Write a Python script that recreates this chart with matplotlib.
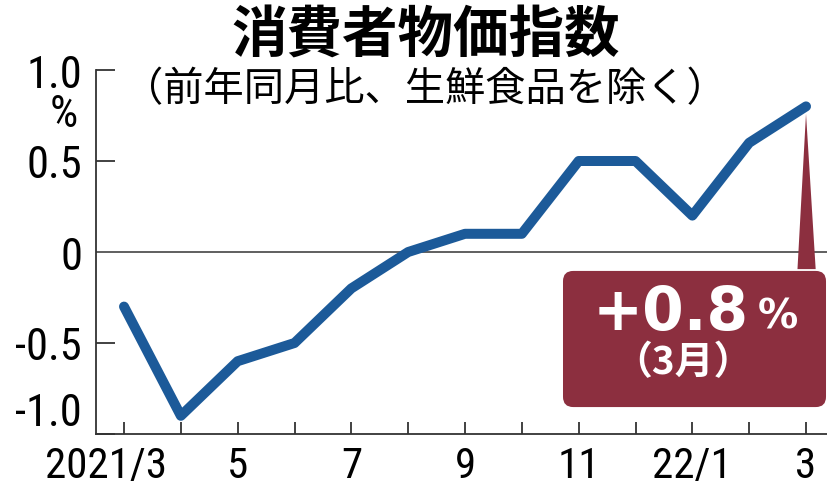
import matplotlib
matplotlib.use("Agg")
import matplotlib.pyplot as plt
import matplotlib.transforms as mtransforms
from matplotlib.patches import FancyBboxPatch, Polygon

# data
months = ["2021/3", "4", "5", "6", "7", "8", "9", "10", "11", "12", "22/1", "2", "3"]
cpi = [-0.3, -0.9, -0.6, -0.5, -0.2, 0.0, 0.1, 0.1, 0.5, 0.5, 0.2, 0.6, 0.8]
tick_labels = ["2021/3", "", "5", "", "7", "", "9", "", "11", "", "22/1", "", "3"]
y_ticks = [-1.0, -0.5, 0, 0.5, 1.0]
y_labels = ["-1.0", "-0.5", "0", "0.5", "1.0"]

num_font = ["Roboto Condensed", "DejaVu Sans"]
jp_font = ["Noto Sans CJK JP", "DejaVu Sans"]
box_font = ["DejaVu Sans"]

fig = plt.figure(figsize=(8.28, 4.89), dpi=100)
ax = fig.add_axes([96 / 828, 1 - 435 / 489, 1 - 96 / 828, (435 - 71) / 489])

x = list(range(len(cpi)))
ax.axhline(0, color="#444444", lw=1.2, zorder=1)
ax.plot(x, cpi, color="#1c5a99", lw=7.2, solid_joinstyle="round",
        solid_capstyle="round", zorder=3)

ax.set_xlim(-0.493, 12.387)
ax.set_ylim(-1.0, 1.0)

for s in ["top", "right"]:
    ax.spines[s].set_visible(False)
for s in ["left", "bottom"]:
    ax.spines[s].set_color("#333333")
    ax.spines[s].set_linewidth(1.3)

ax.set_xticks(x)
ax.set_xticklabels(tick_labels, fontfamily=num_font, fontsize=31)
ax.tick_params(axis="x", direction="in", length=8.5, width=1.3, color="#333333", pad=8)
# first label sits a bit left of its tick
lbl0 = ax.get_xticklabels()[0]
lbl0.set_transform(lbl0.get_transform() +
                   mtransforms.ScaledTranslation(-0.18, 0, fig.dpi_scale_trans))

ax.set_yticks(y_ticks)
ax.set_yticklabels(y_labels, fontfamily=num_font, fontsize=32)
ax.tick_params(axis="y", direction="in", length=13.5, width=1.3, color="#333333", pad=10)
ax.yaxis.get_major_ticks()[2].tick1line.set_visible(False)
# bottom label rests on the axis line
ax.get_yticklabels()[0].set_verticalalignment("bottom")

# percent unit under 1.0
fig.text(64 / 828, 1 - 115 / 489, "%", fontfamily=num_font, fontsize=32,
         ha="center", va="center")

# title
fig.text(426 / 828, 1 - 37 / 489, "消費者物価指数", fontfamily=jp_font,
         fontweight="bold", fontsize=40, ha="center", va="center")
fig.text(425 / 828, 1 - 90 / 489, "（前年同月比、生鮮食品を除く）", fontfamily=jp_font,
         fontsize=29, ha="center", va="center")

# callout box
box_col = "#8c2f3f"
last = len(cpi) - 1
bx0, bx1 = last - 4.276, last + 0.352
by0, by1 = -0.852, -0.104
box = FancyBboxPatch((bx0, by0), bx1 - bx0, by1 - by0,
                     boxstyle="round,pad=0,rounding_size=0.18",
                     mutation_aspect=0.312, facecolor=box_col,
                     edgecolor="none", zorder=4, clip_on=False)
ax.add_patch(box)
ptr = Polygon([(last - 0.15, by1 + 0.01), (last + 0.17, by1 + 0.01),
               (last, cpi[-1] - 0.04)], closed=True, facecolor=box_col,
              edgecolor="none", zorder=2)
ax.add_patch(ptr)

ax.text(last - 2.375, -0.33, "+0.8", color="white", fontfamily=box_font,
        fontweight="bold", fontsize=43, ha="center", va="center", zorder=5)
ax.text(last - 0.50, -0.352, "%", color="white", fontfamily=box_font,
        fontweight="bold", fontsize=29, ha="center", va="center", zorder=5)
ax.text(last - 2.164, -0.604, "（3月）", color="white", fontfamily=jp_font,
        fontweight="bold", fontsize=28, ha="center", va="center", zorder=5)

fig.savefig("out.png", dpi=100)
